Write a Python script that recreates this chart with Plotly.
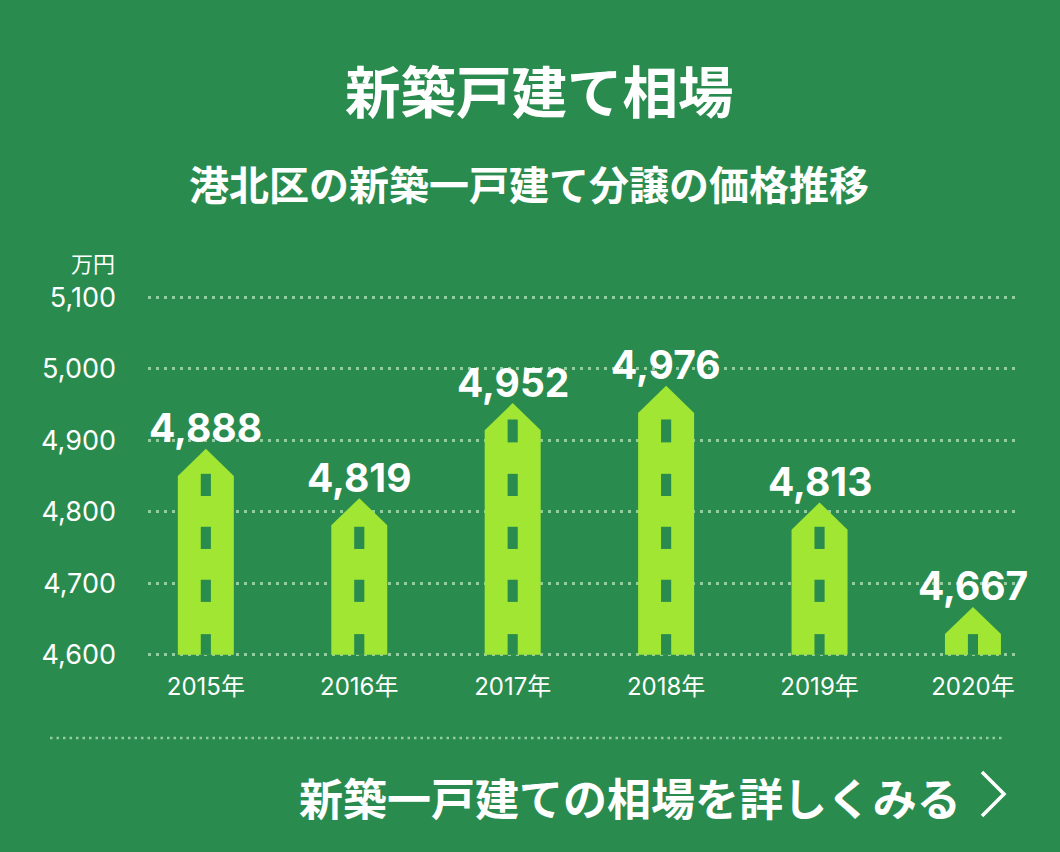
import plotly.graph_objects as go

# ---- data ----
years = ["2015年", "2016年", "2017年", "2018年", "2019年", "2020年"]
prices = [4888, 4819, 4952, 4976, 4813, 4667]
y_ticks = [4600, 4700, 4800, 4900, 5000, 5100]

title_text = "新築戸建て相場"
subtitle_text = "港北区の新築一戸建て分譲の価格推移"
unit_text = "万円"
link_text = "新築一戸建ての相場を詳しくみる"

# ---- style ----
BG = "#298c4e"
HOUSE = "#a0e632"
GRID = "#93cc9f"
W, H = 1060, 852
L, R, T, B = 148, 45, 295, 195
PW, PH = W - L - R, H - T - B
Y0 = 4600
HOUSE_W = 0.365          # x units
ROOF_H = 38              # value units
WIN_W = 0.066            # x units
WIN_BANDS = [(4600, 4629), (4674, 4705), (4748, 4779), (4822, 4853), (4897, 4929)]
JP = "Noto Sans CJK JP"
NUM = "Inter, Liberation Sans, Noto Sans CJK JP"


def px_x(px):
    return (px - L) / PW


def px_y(py):
    return (H - B - py) / PH


fig = go.Figure()

xs = list(range(len(years)))
for i, v in zip(xs, prices):
    hx = HOUSE_W / 2
    fig.add_trace(go.Scatter(
        x=[i - hx, i - hx, i, i + hx, i + hx, i - hx],
        y=[Y0, v - ROOF_H, v, v - ROOF_H, Y0, Y0],
        mode="lines", fill="toself", fillcolor=HOUSE,
        line=dict(width=0, color=HOUSE), hoverinfo="skip", showlegend=False))
    for (b0, b1) in WIN_BANDS:
        if b1 < v:
            wx = WIN_W / 2
            fig.add_trace(go.Scatter(
                x=[i - wx, i - wx, i + wx, i + wx, i - wx],
                y=[b0, b1, b1, b0, b0],
                mode="lines", fill="toself", fillcolor=BG,
                line=dict(width=0, color=BG), hoverinfo="skip", showlegend=False))
    fig.add_annotation(
        x=i, y=v, xref="x", yref="y", text=f"{v:,}", showarrow=False,
        yanchor="middle", yshift=21,
        font=dict(family=NUM, size=39, color="white", weight="bold"))

fig.update_layout(
    width=W, height=H,
    margin=dict(l=L, r=R, t=T, b=B),
    paper_bgcolor=BG, plot_bgcolor=BG,
    showlegend=False,
    xaxis=dict(
        range=[-0.377, 5.274], tickvals=xs, ticktext=years,
        showgrid=False, zeroline=False, showline=False, ticks="",
        ticklabelstandoff=13,
        tickfont=dict(family=NUM, size=24, color="white"),
        fixedrange=True),
    yaxis=dict(
        range=[4597, 5103], tickvals=y_ticks, tickformat=",",
        showgrid=True, gridcolor=GRID, gridwidth=2.5, griddash="2.5px,5.5px",
        zeroline=False, showline=False, ticks="",
        ticklabelstandoff=31,
        tickfont=dict(family=NUM, size=27, color="white"),
        fixedrange=True),
)

# titles and texts
fig.add_annotation(xref="paper", yref="paper", x=px_x(539), y=px_y(89),
                   text=title_text, showarrow=False, xanchor="center", yanchor="middle",
                   font=dict(family=JP, size=55.5, color="white", weight="bold"))
fig.add_annotation(xref="paper", yref="paper", x=px_x(529), y=px_y(183),
                   text=subtitle_text, showarrow=False, xanchor="center", yanchor="middle",
                   font=dict(family=JP, size=40, color="white", weight="bold"))
fig.add_annotation(xref="paper", yref="paper", x=px_x(117), y=px_y(262),
                   text=unit_text, showarrow=False, xanchor="right", yanchor="middle",
                   font=dict(family=JP, size=22, color="white"))
fig.add_annotation(xref="paper", yref="paper", x=px_x(963), y=px_y(797),
                   text=link_text, showarrow=False, xanchor="right", yanchor="middle",
                   font=dict(family=JP, size=44, color="white", weight="bold"))

# chevron
fig.add_shape(type="path", xref="paper", yref="paper",
              path=f"M {px_x(982)},{px_y(772)} L {px_x(1004)},{px_y(794)} L {px_x(982)},{px_y(816)}",
              line=dict(color="white", width=3.5))

# bottom dotted separator
fig.add_shape(type="line", xref="paper", yref="paper",
              x0=px_x(50), x1=px_x(1005), y0=px_y(738), y1=px_y(738),
              line=dict(color=GRID, width=2.5, dash="2.5px,4px"))

fig.write_html("out.html")
